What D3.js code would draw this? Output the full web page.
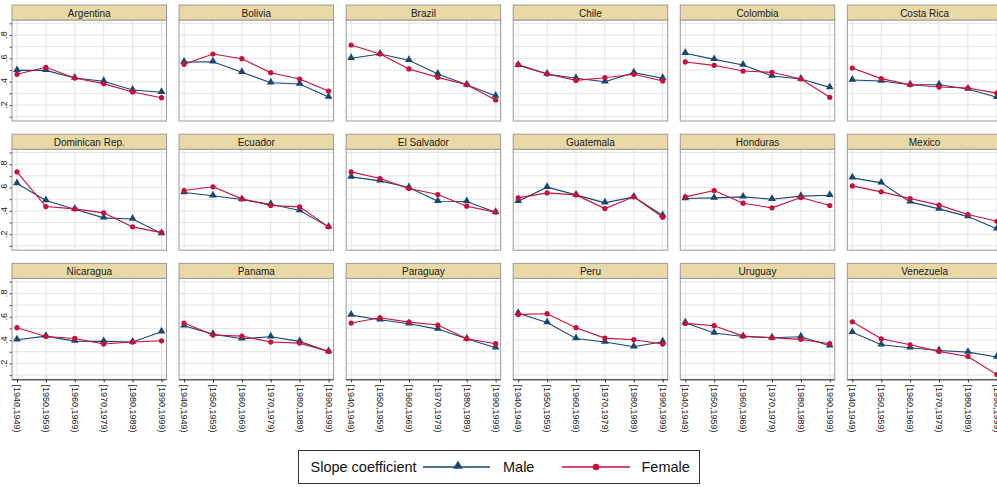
<!DOCTYPE html>
<html>
<head>
<meta charset="utf-8">
<script src="https://cdn.jsdelivr.net/npm/d3@7"></script>
<style>
  html, body { margin: 0; padding: 0; background: #fff; }
  svg { display: block; font-family: "Liberation Sans", Arial, sans-serif; }
</style>
</head>
<body>
<svg id="chart" width="997" height="487"></svg>
<script>
// Cohort slope coefficients by country and sex
const countries = [
  "Argentina", "Bolivia", "Brazil", "Chile", "Colombia", "Costa Rica",
  "Dominican Rep.", "Ecuador", "El Salvador", "Guatemala", "Honduras", "Mexico",
  "Nicaragua", "Panama", "Paraguay", "Peru", "Uruguay", "Venezuela"
];
const periods = ["[1940,1949)", "[1950,1959)", "[1960,1969)", "[1970,1979)", "[1980,1989)", "[1990,1999)"];

const maleSlope = [
  [0.497, 0.497, 0.431, 0.403, 0.329, 0.309],
  [0.569, 0.571, 0.480, 0.391, 0.380, 0.269],
  [0.600, 0.637, 0.583, 0.466, 0.374, 0.277],
  [0.540, 0.466, 0.429, 0.400, 0.477, 0.429],
  [0.643, 0.591, 0.543, 0.449, 0.423, 0.351],
  [0.414, 0.406, 0.374, 0.374, 0.337, 0.266],
  [0.634, 0.489, 0.414, 0.340, 0.331, 0.206],
  [0.557, 0.529, 0.497, 0.457, 0.403, 0.263],
  [0.691, 0.657, 0.600, 0.483, 0.480, 0.389],
  [0.483, 0.603, 0.537, 0.469, 0.520, 0.360],
  [0.506, 0.511, 0.520, 0.500, 0.526, 0.534],
  [0.683, 0.640, 0.477, 0.417, 0.351, 0.246],
  [0.403, 0.434, 0.391, 0.389, 0.383, 0.471],
  [0.523, 0.451, 0.411, 0.429, 0.389, 0.303],
  [0.614, 0.574, 0.540, 0.494, 0.411, 0.334],
  [0.629, 0.551, 0.414, 0.383, 0.343, 0.386],
  [0.549, 0.460, 0.431, 0.420, 0.429, 0.351],
  [0.466, 0.360, 0.334, 0.311, 0.297, 0.255]
];
const femaleSlope = [
  [0.463, 0.523, 0.431, 0.383, 0.311, 0.263],
  [0.549, 0.637, 0.597, 0.477, 0.423, 0.320],
  [0.714, 0.637, 0.509, 0.437, 0.374, 0.243],
  [0.546, 0.466, 0.411, 0.434, 0.463, 0.406],
  [0.569, 0.540, 0.491, 0.480, 0.423, 0.266],
  [0.517, 0.426, 0.374, 0.354, 0.346, 0.302],
  [0.734, 0.437, 0.417, 0.383, 0.263, 0.214],
  [0.574, 0.606, 0.503, 0.446, 0.434, 0.263],
  [0.734, 0.677, 0.591, 0.540, 0.440, 0.389],
  [0.511, 0.554, 0.537, 0.420, 0.520, 0.346],
  [0.520, 0.574, 0.466, 0.426, 0.514, 0.446],
  [0.614, 0.563, 0.506, 0.449, 0.369, 0.311],
  [0.506, 0.431, 0.414, 0.366, 0.383, 0.394],
  [0.546, 0.443, 0.434, 0.383, 0.374, 0.303],
  [0.546, 0.591, 0.554, 0.529, 0.411, 0.369],
  [0.620, 0.626, 0.506, 0.417, 0.403, 0.366],
  [0.543, 0.523, 0.434, 0.420, 0.406, 0.369],
  [0.557, 0.411, 0.360, 0.303, 0.260, 0.105]
];
const yTicks = [0.2, 0.4, 0.6, 0.8];
const yTickLabels = [".2", ".4", ".6", ".8"];
const yGrid = [0.1, 0.2, 0.3, 0.4, 0.5, 0.6, 0.7, 0.8, 0.9];
const legendLabels = ["Slope coefficient", "Male", "Female"];

const MALE = "#1a476f";
const FEMALE = "#c8103c";
const HEADER_FILL = "#e8d9a6";

const svg = d3.select("#chart");

const nCols = 6;
const colPitch = 167.07;
const rowPitch = 129.2;
const panelLeft0 = 12;
const panelW = 154.5;
const headerTop = 5, headerH = 15;
const plotTop = 20, plotBottom = 121;

const triangle = d3.symbol().type(d3.symbolTriangle).size(26);

countries.forEach((name, i) => {
  const col = i % nCols, row = Math.floor(i / nCols);
  const x0 = panelLeft0 + col * colPitch;
  const y0 = row * rowPitch;
  const g = svg.append("g");

  const x = d3.scalePoint().domain(periods).range([x0 + 5, x0 + panelW - 5]);
  const y = d3.scaleLinear().domain([0.1, 0.9]).range([y0 + 116.7, y0 + 23.3]);

  // plot area background
  g.append("rect")
    .attr("x", x0).attr("y", y0 + plotTop)
    .attr("width", panelW).attr("height", plotBottom - plotTop)
    .attr("fill", "#fff");

  // grid lines
  g.selectAll(".hg").data(yGrid).join("line")
    .attr("x1", x0).attr("x2", x0 + panelW)
    .attr("y1", d => y(d)).attr("y2", d => y(d))
    .attr("stroke", "#e3e3e3").attr("stroke-width", 1);
  g.selectAll(".vg").data(periods).join("line")
    .attr("x1", d => x(d)).attr("x2", d => x(d))
    .attr("y1", y0 + plotTop).attr("y2", y0 + plotBottom)
    .attr("stroke", "#e3e3e3").attr("stroke-width", 1);

  // frame
  g.append("rect")
    .attr("x", x0).attr("y", y0 + plotTop)
    .attr("width", panelW).attr("height", plotBottom - plotTop)
    .attr("fill", "none").attr("stroke", "#9a9a9a").attr("stroke-width", 1);

  // header strip
  g.append("rect")
    .attr("x", x0).attr("y", y0 + headerTop)
    .attr("width", panelW).attr("height", headerH)
    .attr("fill", HEADER_FILL).attr("stroke", "#9a9a9a").attr("stroke-width", 1);
  g.append("text")
    .attr("x", x0 + panelW / 2).attr("y", y0 + headerTop + headerH / 2 + 0.5)
    .attr("text-anchor", "middle").attr("dominant-baseline", "central")
    .attr("font-size", 10).attr("fill", "#1a1a1a")
    .text(name);

  // y axis on the first column
  if (col === 0) {
    const ax = g.append("g").attr("transform", `translate(${x0},0)`)
      .call(d3.axisLeft(y).tickValues(yGrid).tickSize(2.5).tickFormat(""));
    ax.select(".domain").remove();
    ax.selectAll("line").attr("stroke", "#555");
    g.selectAll(".yl").data(yTicks).join("text")
      .attr("transform", d => `translate(4,${y(d)}) rotate(-90)`)
      .attr("text-anchor", "middle").attr("dominant-baseline", "central")
      .attr("font-size", 9).attr("fill", "#222")
      .text((d, k) => yTickLabels[k]);
  }

  // x axis on the bottom row
  if (row === 2) {
    const ax = g.append("g").attr("transform", `translate(0,${y0 + plotBottom})`)
      .call(d3.axisBottom(x).tickSize(3).tickSizeOuter(0).tickFormat(""));
    ax.select(".domain").attr("stroke", "#333").attr("d", `M${x0},0.5H${x0 + panelW}`);
    ax.selectAll("line").attr("stroke", "#333");
    g.selectAll(".xl").data(periods).join("text")
      .attr("transform", d => `translate(${x(d)},${y0 + plotBottom + 5}) rotate(90)`)
      .attr("text-anchor", "start").attr("dominant-baseline", "central")
      .attr("font-size", 9).attr("fill", "#222")
      .text(d => d);
  }

  const line = d3.line().x((d, k) => x(periods[k])).y(d => y(d));

  // male series
  g.append("path").datum(maleSlope[i])
    .attr("d", line).attr("fill", "none")
    .attr("stroke", MALE).attr("stroke-width", 1.1);
  g.selectAll(".mm").data(maleSlope[i]).join("path")
    .attr("d", triangle)
    .attr("transform", (d, k) => `translate(${x(periods[k])},${y(d) - 0.5})`)
    .attr("fill", MALE);

  // female series
  g.append("path").datum(femaleSlope[i])
    .attr("d", line).attr("fill", "none")
    .attr("stroke", FEMALE).attr("stroke-width", 1.1);
  g.selectAll(".fm").data(femaleSlope[i]).join("circle")
    .attr("cx", (d, k) => x(periods[k])).attr("cy", d => y(d))
    .attr("r", 2.6).attr("fill", FEMALE);
});

// legend
const lg = svg.append("g");
lg.append("rect")
  .attr("x", 298.5).attr("y", 450.5).attr("width", 401).attr("height", 33)
  .attr("fill", "#fff").attr("stroke", "#333").attr("stroke-width", 1);
const ly = 467;
lg.append("text").attr("x", 310.5).attr("y", ly).attr("dominant-baseline", "central")
  .attr("font-size", 14.5).attr("fill", "#111").text(legendLabels[0]);
lg.append("line").attr("x1", 423).attr("x2", 490).attr("y1", ly).attr("y2", ly)
  .attr("stroke", MALE).attr("stroke-width", 1.3);
lg.append("path").attr("d", d3.symbol().type(d3.symbolTriangle).size(40))
  .attr("transform", `translate(458,${ly - 1})`).attr("fill", MALE);
lg.append("text").attr("x", 503).attr("y", ly).attr("dominant-baseline", "central")
  .attr("font-size", 14.5).attr("fill", "#111").text(legendLabels[1]);
lg.append("line").attr("x1", 562).attr("x2", 630).attr("y1", ly).attr("y2", ly)
  .attr("stroke", FEMALE).attr("stroke-width", 1.3);
lg.append("circle").attr("cx", 596).attr("cy", ly).attr("r", 3.3).attr("fill", FEMALE);
lg.append("text").attr("x", 641.5).attr("y", ly).attr("dominant-baseline", "central")
  .attr("font-size", 14.5).attr("fill", "#111").text(legendLabels[2]);
</script>
</body>
</html>
